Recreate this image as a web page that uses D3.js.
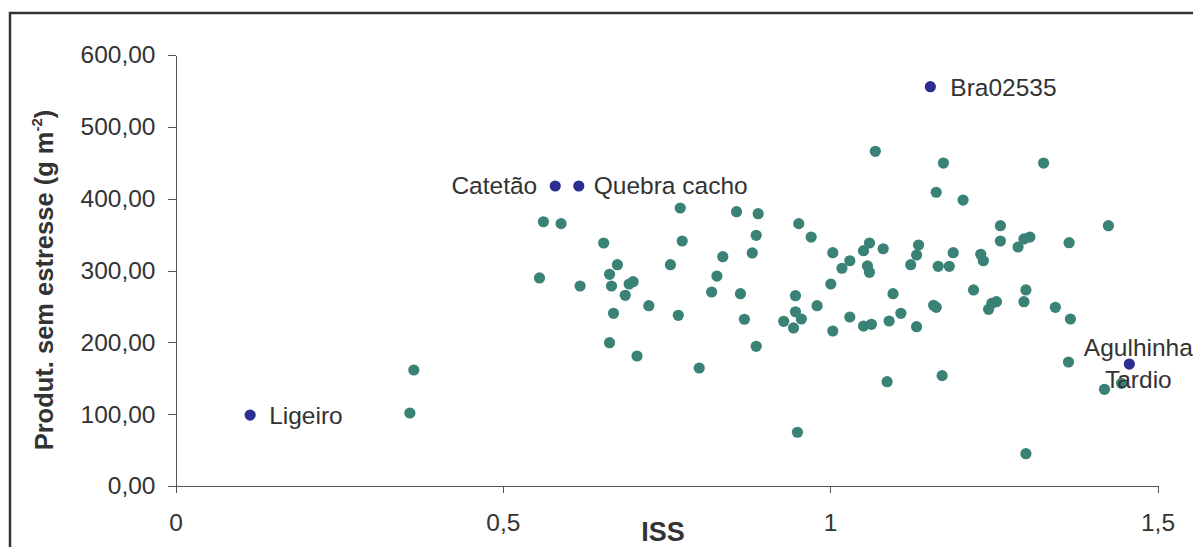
<!DOCTYPE html>
<html>
<head>
<meta charset="utf-8">
<script src="https://cdn.jsdelivr.net/npm/d3@7"></script>
<style>
	body { margin: 0; background: #fff; }
	svg { display: block; font-family: 'Liberation Sans', Arial, sans-serif; }
	.axis path, .axis line { stroke: #555; shape-rendering: crispEdges; }
	.axis text { fill: #333; font-size: 24.5px; }
	.label { fill: #333; font-size: 24.5px; }
	.axis-title { fill: #333; font-size: 25.5px; font-weight: bold; }
</style>
</head>
<body>
<svg id="chart"></svg>
<script>
// ISS (x) and yield without stress (y) for the accessions
const issValues = [
	0.562, 0.589, 0.654, 0.675, 0.663, 0.556, 0.618, 0.666, 0.693, 0.699,
	0.687, 0.723, 0.669, 0.768, 0.771, 0.774, 0.756, 0.857, 0.890, 0.887,
	0.836, 0.881, 0.827, 0.819, 0.863, 0.869, 0.929, 0.947, 0.952, 0.947,
	0.944, 1.069, 1.173, 1.326, 1.162, 1.203, 0.971, 1.260, 1.425, 1.260,
	1.296, 1.305, 1.287, 1.365, 1.004, 1.051, 1.060, 1.081, 1.135, 1.132,
	1.123, 1.188, 1.230, 1.234, 1.165, 1.182, 1.030, 1.018, 1.057, 1.060,
	1.001, 0.980, 1.096, 1.219, 1.299, 1.296, 1.158, 1.162, 1.254, 1.247,
	1.242, 1.344, 1.367, 0.956, 1.030, 1.004, 1.051, 1.063, 1.090, 1.108,
	1.132, 0.663, 0.705, 0.800, 0.887, 0.950, 1.087, 1.171, 1.364, 1.445,
	1.419, 1.299, 0.364, 0.358,
];
const prodValues = [
	367.9, 365.2, 338.3, 308.1, 294.7, 289.6, 278.4, 278.4, 281.2, 284.4,
	265.5, 251.0, 240.4, 237.6, 387.0, 341.1, 308.1, 381.9, 379.1, 349.0,
	319.2, 324.4, 292.3, 270.1, 267.7, 232.1, 229.3, 264.9, 365.2, 242.6,
	220.0, 465.9, 449.6, 449.6, 408.9, 398.1, 346.6, 362.4, 362.4, 341.1,
	343.9, 346.6, 332.7, 338.7, 324.8, 327.6, 338.3, 330.3, 335.5, 321.6,
	308.1, 324.8, 322.6, 313.6, 305.8, 305.8, 313.6, 303.1, 306.3, 297.5,
	281.2, 251.0, 267.7, 272.9, 272.9, 256.6, 251.6, 248.8, 256.6, 254.3,
	246.0, 248.8, 232.5, 232.5, 235.3, 215.8, 222.7, 225.1, 229.7, 240.4,
	221.8, 199.5, 181.0, 164.3, 194.5, 74.8, 145.2, 153.6, 172.6, 143.0,
	134.6, 45.0, 161.5, 101.6,
];

// named accessions
const namedLabels = ['Ligeiro', 'Catetão', 'Quebra cacho', 'Bra02535', 'Agulhinha Tardio'];
const namedIss = [0.114, 0.580, 0.616, 1.153, 1.457];
const namedProd = [98.8, 417.6, 417.6, 555.9, 169.8];

const xTickValues = [0, 0.5, 1, 1.5];
const yTickValues = [0, 100, 200, 300, 400, 500, 600];

class ScatterChart {
	constructor(_config) {
		this.config = {
			parentElement: _config.parentElement,
			containerWidth: _config.containerWidth || 1193,
			containerHeight: _config.containerHeight || 547,
		};
		this.initVis();
	}

	initVis() {
		let vis = this;

		const locale = d3.formatLocale({ decimal: ',', thousands: '.', grouping: [3], currency: ['R$', ''] });

		vis.svg = d3
			.select(vis.config.parentElement)
			.attr('width', vis.config.containerWidth)
			.attr('height', vis.config.containerHeight);

		// outer frame (continues past the right and bottom edges)
		vis.svg
			.append('path')
			.attr('d', `M10,${vis.config.containerHeight + 5}V13H${vis.config.containerWidth + 5}`)
			.attr('fill', 'none')
			.attr('stroke', '#333')
			.attr('stroke-width', 2.5);

		vis.xScale = d3.scaleLinear().domain([0, 1.5]).range([175.5, 1157.5]);
		vis.yScale = d3.scaleLinear().domain([0, 600]).range([486, 55]);

		vis.xAxis = d3
			.axisBottom(vis.xScale)
			.tickValues(xTickValues)
			.tickSize(7)
			.tickSizeOuter(0)
			.tickPadding(21)
			.tickFormat((d) => (d % 1 === 0 ? d3.format('d')(d) : locale.format('.1f')(d)));

		vis.yAxis = d3
			.axisLeft(vis.yScale)
			.tickValues(yTickValues)
			.tickSize(8)
			.tickSizeOuter(0)
			.tickPadding(12)
			.tickFormat(locale.format('.2f'));

		vis.svg
			.append('g')
			.attr('class', 'axis x-axis')
			.attr('transform', `translate(0,${vis.yScale(0)})`)
			.call(vis.xAxis)
			.call((g) => g.selectAll('text').attr('font-family', null).attr('font-size', null));

		vis.svg
			.append('g')
			.attr('class', 'axis y-axis')
			.attr('transform', `translate(${vis.xScale(0)},0)`)
			.call(vis.yAxis)
			.call((g) => g.selectAll('text').attr('font-family', null).attr('font-size', null));

		// axis titles
		const yTitle = vis.svg
			.append('text')
			.attr('class', 'axis-title')
			.attr('transform', 'translate(53,280) rotate(-90)')
			.attr('text-anchor', 'middle');
		yTitle.append('tspan').text('Produt. sem estresse (g m');
		yTitle.append('tspan').attr('font-size', '15px').attr('dy', -11).text('-2');
		yTitle.append('tspan').attr('dy', 11).text(')');

		vis.svg
			.append('text')
			.attr('class', 'axis-title')
			.attr('x', 663)
			.attr('y', 541)
			.attr('text-anchor', 'middle')
			.style('font-size', '27px')
			.text('ISS');

		vis.points = issValues.map((d, i) => ({ iss: d, prod: prodValues[i] }));
		vis.named = namedLabels.map((d, i) => ({ name: d, iss: namedIss[i], prod: namedProd[i] }));

		vis.renderVis();
	}

	renderVis() {
		let vis = this;

		vis.svg
			.append('g')
			.selectAll('circle')
			.data(vis.points)
			.join('circle')
			.attr('cx', (d) => vis.xScale(d.iss))
			.attr('cy', (d) => vis.yScale(d.prod))
			.attr('r', 5.6)
			.attr('fill', '#3a8276');

		vis.svg
			.append('g')
			.selectAll('circle')
			.data(vis.named)
			.join('circle')
			.attr('cx', (d) => vis.xScale(d.iss))
			.attr('cy', (d) => vis.yScale(d.prod))
			.attr('r', 5.6)
			.attr('fill', '#2c2e92');

		// where each name sits relative to its point
		const placement = {
			'Ligeiro': { anchor: 'start', dx: 19, dy: 9 },
			'Catetão': { anchor: 'end', dx: -18, dy: 8 },
			'Quebra cacho': { anchor: 'start', dx: 15, dy: 8 },
			'Bra02535': { anchor: 'start', dx: 20, dy: 9 },
			'Agulhinha Tardio': { anchor: 'middle', dx: 9, dy: -8, lines: ['Agulhinha', 'Tardio'] },
		};

		vis.svg
			.append('g')
			.selectAll('text')
			.data(vis.named)
			.join('text')
			.attr('class', 'label')
			.attr('text-anchor', (d) => placement[d.name].anchor)
			.attr('x', (d) => vis.xScale(d.iss) + placement[d.name].dx)
			.attr('y', (d) => vis.yScale(d.prod) + placement[d.name].dy)
			.each(function (d) {
				const p = placement[d.name];
				const lines = p.lines || [d.name];
				d3.select(this)
					.selectAll('tspan')
					.data(lines)
					.join('tspan')
					.attr('x', vis.xScale(d.iss) + p.dx)
					.attr('dy', (l, i) => (i === 0 ? 0 : 32))
					.text((l) => l);
			});
	}
}

new ScatterChart({ parentElement: '#chart', containerWidth: 1193, containerHeight: 547 });
</script>
</body>
</html>
